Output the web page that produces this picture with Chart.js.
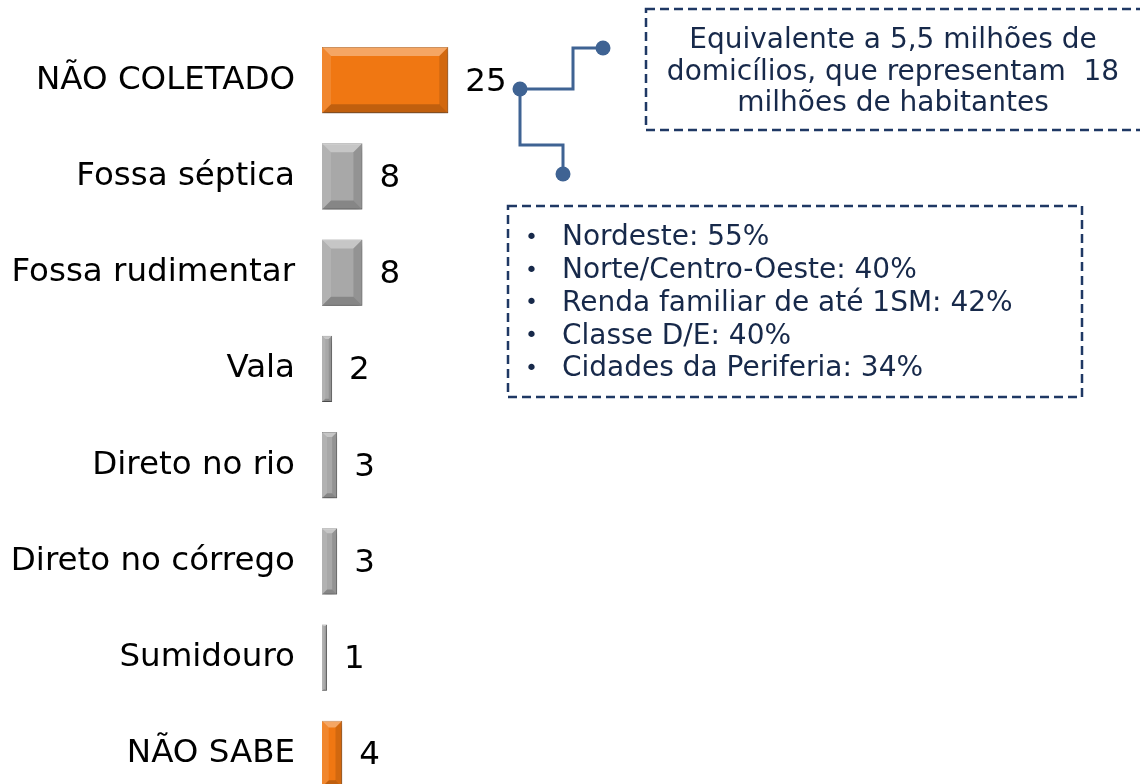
<!DOCTYPE html>
<html>
<head>
<meta charset="utf-8">
<script src="https://cdn.jsdelivr.net/npm/chart.js@4"></script>
<style>
  html, body { margin: 0; padding: 0; background: #fff; overflow: hidden; }
</style>
</head>
<body>
<canvas id="chart" width="1140" height="802"></canvas>
<script>
// data
const categories = ['NÃO COLETADO', 'Fossa séptica', 'Fossa rudimentar', 'Vala', 'Direto no rio', 'Direto no córrego', 'Sumidouro', 'NÃO SABE'];
const values = [25, 8, 8, 2, 3, 3, 1, 4];
const highlighted = [true, false, false, false, false, false, false, true];
const noteTop = ['Equivalente a 5,5 milhões de', 'domicílios, que representam  18', 'milhões de habitantes'];
const noteBullets = ['Nordeste: 55%', 'Norte/Centro-Oeste: 40%', 'Renda familiar de até 1SM: 42%', 'Classe D/E: 40%', 'Cidades da Periferia: 34%'];

const FONT = '"DejaVu Sans", Verdana, sans-serif';
const orange = '#F07712', orangeDark = '#B85A0A';
const grey = '#A8A8A8', greyDark = '#7A7A7A';
const noteColor = '#17294A', noteBorder = '#1F3864', linkColor = '#3F6393';

// soft shadow under the bars
const barShadow = {
  id: 'barShadow',
  beforeDatasetsDraw(chart) {
    const ctx = chart.ctx;
    ctx.save();
    ctx.shadowColor = 'rgba(0,0,0,0.35)';
    ctx.shadowBlur = 6;
    ctx.shadowOffsetY = 4;
  },
  afterDatasetsDraw(chart) {
    chart.ctx.restore();
  }
};

// bevel look + value labels
const bevelAndLabels = {
  id: 'bevelAndLabels',
  afterDatasetsDraw(chart) {
    const ctx = chart.ctx;
    const meta = chart.getDatasetMeta(0);
    meta.data.forEach((el, i) => {
      const p = el.getProps(['x', 'y', 'base', 'height'], true);
      const l = Math.min(p.x, p.base), r = Math.max(p.x, p.base);
      const t = p.y - p.height / 2, b = p.y + p.height / 2;
      const s = Math.min(9, (r - l) / 3, p.height / 3);
      const poly = (pts, col) => {
        ctx.beginPath();
        ctx.moveTo(pts[0][0], pts[0][1]);
        pts.slice(1).forEach(q => ctx.lineTo(q[0], q[1]));
        ctx.closePath();
        ctx.fillStyle = col;
        ctx.fill();
      };
      ctx.save();
      poly([[l, t], [r, t], [r - s, t + s], [l + s, t + s]], 'rgba(255,255,255,0.35)');
      poly([[l, t], [l + s, t + s], [l + s, b - s], [l, b]], 'rgba(255,255,255,0.12)');
      poly([[r, t], [r - s, t + s], [r - s, b - s], [r, b]], 'rgba(0,0,0,0.12)');
      poly([[l, b], [l + s, b - s], [r - s, b - s], [r, b]], 'rgba(0,0,0,0.2)');
      ctx.restore();

      ctx.save();
      ctx.font = '32.5px ' + FONT;
      ctx.fillStyle = '#000';
      ctx.textAlign = 'left';
      ctx.textBaseline = 'middle';
      ctx.fillText(String(values[i]), r + 17, p.y + 2);
      ctx.restore();
    });
  }
};

// callout boxes and connectors
const callouts = {
  id: 'callouts',
  afterDraw(chart) {
    const ctx = chart.ctx;
    ctx.save();
    ctx.strokeStyle = linkColor;
    ctx.lineWidth = 3;
    ctx.beginPath();
    ctx.moveTo(520, 89); ctx.lineTo(573, 89); ctx.lineTo(573, 48); ctx.lineTo(603, 48);
    ctx.moveTo(520, 89); ctx.lineTo(520, 145); ctx.lineTo(563, 145); ctx.lineTo(563, 174);
    ctx.stroke();
    ctx.fillStyle = linkColor;
    [[520, 89], [603, 48], [563, 174]].forEach(d => {
      ctx.beginPath();
      ctx.arc(d[0], d[1], 7.5, 0, Math.PI * 2);
      ctx.fill();
    });

    ctx.strokeStyle = noteBorder;
    ctx.lineWidth = 2.5;
    ctx.setLineDash([9, 5]);
    ctx.strokeRect(646, 9, 497, 121);
    ctx.strokeRect(508, 206, 574, 191);
    ctx.setLineDash([]);

    ctx.font = '28px ' + FONT;
    ctx.fillStyle = noteColor;
    ctx.textBaseline = 'middle';
    ctx.textAlign = 'center';
    noteTop.forEach((s, i) => ctx.fillText(s, 893, 41 + i * 31.5));
    ctx.textAlign = 'left';
    noteBullets.forEach((s, i) => {
      const y = 238 + i * 32.8;
      ctx.font = '28px ' + FONT;
      ctx.fillText(s, 562, y);
      ctx.font = '22px ' + FONT;
      ctx.fillText('•', 525, y);
    });
    ctx.restore();
  }
};

new Chart(document.getElementById('chart'), {
  type: 'bar',
  data: {
    labels: categories,
    datasets: [{
      data: values,
      backgroundColor: highlighted.map(h => h ? orange : grey),
      borderColor: highlighted.map(h => h ? orangeDark : greyDark),
      borderWidth: 1,
      barPercentage: 0.69,
      categoryPercentage: 1
    }]
  },
  options: {
    indexAxis: 'y',
    responsive: false,
    animation: false,
    layout: { padding: { top: 32, bottom: 0, left: 0, right: 0 } },
    plugins: { legend: { display: false }, tooltip: { enabled: false } },
    scales: {
      x: { display: false, min: 0, max: 162 },
      y: {
        grid: { display: false, drawTicks: false },
        border: { display: false },
        ticks: { font: { family: FONT, size: 32.5 }, color: '#000', padding: 27 },
        afterFit(scale) {
          scale.width = 322;
          scale.paddingTop = 0;
          scale.paddingBottom = 0;
        }
      }
    }
  },
  plugins: [barShadow, bevelAndLabels, callouts]
});
</script>
</body>
</html>
